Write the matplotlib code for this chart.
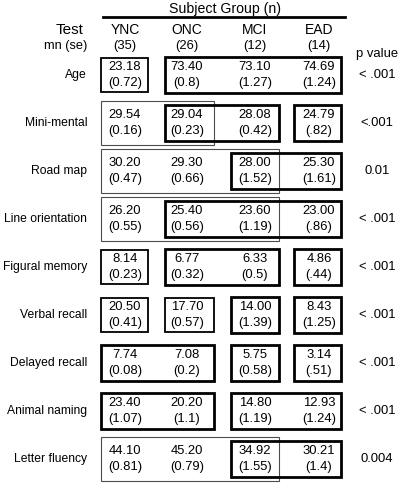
import matplotlib.pyplot as plt
from matplotlib.patches import Rectangle

plt.rcParams['font.family'] = ['Liberation Sans', 'DejaVu Sans']

groups = ["YNC", "ONC", "MCI", "EAD"]
group_n = ["(35)", "(26)", "(12)", "(14)"]

tests = ["Age", "Mini-mental", "Road map", "Line orientation", "Figural memory",
         "Verbal recall", "Delayed recall", "Animal naming", "Letter fluency"]

means = [
    ["23.18", "73.40", "73.10", "74.69"],
    ["29.54", "29.04", "28.08", "24.79"],
    ["30.20", "29.30", "28.00", "25.30"],
    ["26.20", "25.40", "23.60", "23.00"],
    ["8.14", "6.77", "6.33", "4.86"],
    ["20.50", "17.70", "14.00", "8.43"],
    ["7.74", "7.08", "5.75", "3.14"],
    ["23.40", "20.20", "14.80", "12.93"],
    ["44.10", "45.20", "34.92", "30.21"],
]

ses = [
    ["0.72", "0.8", "1.27", "1.24"],
    ["0.16", "0.23", "0.42", ".82"],
    ["0.47", "0.66", "1.52", "1.61"],
    ["0.55", "0.56", "1.19", ".86"],
    ["0.23", "0.32", "0.5", ".44"],
    ["0.41", "0.57", "1.39", "1.25"],
    ["0.08", "0.2", "0.58", ".51"],
    ["1.07", "1.1", "1.19", "1.24"],
    ["0.81", "0.79", "1.55", "1.4"],
]

p_values = ["< .001", "<.001", "0.01", "< .001", "< .001", "< .001", "< .001", "< .001", "0.004"]

# homogeneous subsets: (row, first group, last group, line style)
subsets = [
    (0, 0, 0, "mid"), (0, 1, 3, "thick"),
    (1, 0, 1, "thin"), (1, 1, 2, "thick"), (1, 3, 3, "thick"),
    (2, 0, 2, "thin"), (2, 2, 3, "thick"),
    (3, 0, 2, "thin"), (3, 1, 3, "thick"),
    (4, 0, 0, "mid"), (4, 1, 2, "thick"), (4, 3, 3, "thick"),
    (5, 0, 0, "mid"), (5, 1, 1, "mid"), (5, 2, 2, "thick"), (5, 3, 3, "thick"),
    (6, 0, 1, "thick"), (6, 2, 2, "thick"), (6, 3, 3, "thick"),
    (7, 0, 1, "thick"), (7, 2, 3, "thick"),
    (8, 0, 2, "thin"), (8, 2, 3, "thick"),
]

# layout in pixels
col_x = [125, 187, 255, 319]
box_left = [101, 165, 231, 294]
box_right = [148, 214, 279, 341]
row_y0, row_step = 75, 48
styles = {
    "thin": dict(lw=0.8, color="0.3", pad=22),
    "mid": dict(lw=1.3, color="black", pad=17),
    "thick": dict(lw=2.0, color="black", pad=18),
}
fs = 9.4

fig = plt.figure(figsize=(4, 4.83), dpi=100)
ax = fig.add_axes([0, 0, 1, 1])
ax.set_xlim(0, 400)
ax.set_ylim(483, 0)
ax.axis("off")

ax.text(225, 9, "Subject Group (n)", ha="center", va="center", fontsize=10.2)
ax.plot([103, 345], [16.5, 16.5], color="black", lw=2)
ax.text(84, 30, "Test", ha="right", va="center", fontsize=11)
ax.text(87, 46, "mn (se)", ha="right", va="center", fontsize=9.2)
ax.text(377, 54, "p value", ha="center", va="center", fontsize=9.4)

for j, g in enumerate(groups):
    ax.text(col_x[j], 29.5, g, ha="center", va="center", fontsize=10)
    ax.text(col_x[j], 46, group_n[j], ha="center", va="center", fontsize=fs)

for i, t in enumerate(tests):
    y = row_y0 + i * row_step
    ax.text(87, y, t, ha="right", va="center", fontsize=8.7)
    ax.text(377, y, p_values[i], ha="center", va="center", fontsize=fs)
    for j in range(len(groups)):
        ax.text(col_x[j], y - 8, means[i][j], ha="center", va="center", fontsize=fs)
        ax.text(col_x[j], y + 8, "(" + ses[i][j] + ")", ha="center", va="center", fontsize=fs)

for row, a, b, st in subsets:
    s = styles[st]
    y = row_y0 + row * row_step
    ax.add_patch(Rectangle((box_left[a], y - s["pad"]), box_right[b] - box_left[a], 2 * s["pad"],
                           fill=False, lw=s["lw"], edgecolor=s["color"]))

fig.savefig("out.png", dpi=100)
